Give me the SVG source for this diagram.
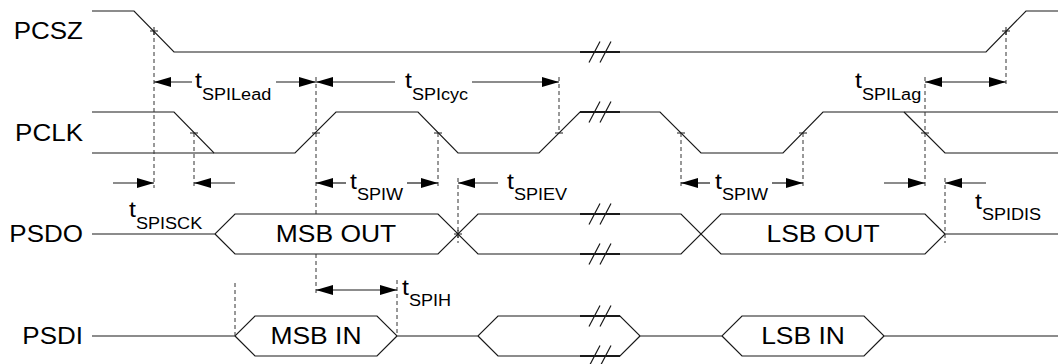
<svg xmlns="http://www.w3.org/2000/svg" width="1058" height="364" viewBox="0 0 1058 364">
<style>
.w{fill:none;stroke:#1a1a1a;stroke-width:1.2}
.brk{fill:none;stroke:#1a1a1a;stroke-width:2.2}
.sl{fill:none;stroke:#1a1a1a;stroke-width:1.2}
.d{fill:none;stroke:#333;stroke-width:1;stroke-dasharray:4 3}
.x{fill:none;stroke:#1a1a1a;stroke-width:1}
.a{fill:none;stroke:#1a1a1a;stroke-width:1.2;marker-end:url(#ah)}
.a2{fill:none;stroke:#1a1a1a;stroke-width:1.2;marker-end:url(#ah);marker-start:url(#ah)}
text{font-family:"Liberation Sans",Arial,Helvetica,sans-serif;fill:#000}
.lbl{font-size:23px}
.t{font-size:22px}
.s{font-size:16px}
</style>
<defs>
<marker id="ah" viewBox="0 0 17 10" refX="17" refY="5" markerWidth="17" markerHeight="10" markerUnits="userSpaceOnUse" orient="auto-start-reverse">
<path d="M0,0 L17,5 L0,10 z" fill="#000"/>
</marker>
</defs>
<rect width="1058" height="364" fill="#fff"/>

<g id="PCSZ">
<text class="lbl" text-anchor="end" transform="translate(83,39) scale(1.13,1)">PCSZ</text>
<path class="w" d="M92,11 H134 L174,52 H986 L1026,11 H1058"/>
<path class="brk" d="M580,52 H620"/>
<path class="sl" d="M589,62.5 L600,41.5 M600,62.5 L611,41.5"/>
</g>

<g id="PCLK">
<text class="lbl" text-anchor="end" transform="translate(83,141) scale(1.13,1)">PCLK</text>
<path class="w" d="M92,112 H174 L214,153 H295 L336,112 H418 L458,153 H539 L580,112 H660 L701,153 H783 L823,112 H1058"/>
<path class="w" d="M92,153 H214"/>
<path class="w" d="M904,112 L945,153 H1058"/>
<path class="brk" d="M580,112 H620"/>
<path class="sl" d="M589,122.5 L600,101.5 M600,122.5 L611,101.5"/>
</g>

<g id="PSDO">
<text class="lbl" text-anchor="end" transform="translate(83,242) scale(1.13,1)">PSDO</text>
<path class="w" d="M92,234 H215 L235,214 H438 L458,234 L478,214 H681 L721,254 H925 L945,234 H1058"/>
<path class="w" d="M215,234 L235,254 H438 L458,234 L478,254 H681 L721,214 H925 L945,234"/>
<path class="brk" d="M580,214 H620 M580,254 H620"/>
<path class="sl" d="M589,224.5 L600,203.5 M600,224.5 L611,203.5 M589,264.5 L600,243.5 M600,264.5 L611,243.5"/>
<text class="lbl" text-anchor="middle" transform="translate(336,242) scale(1.15,1)">MSB OUT</text>
<text class="lbl" text-anchor="middle" transform="translate(823,242) scale(1.15,1)">LSB OUT</text>
</g>

<g id="PSDI">
<text class="lbl" text-anchor="end" transform="translate(83,344) scale(1.13,1)">PSDI</text>
<path class="w" d="M92,336 H235 L255,316 H377 L397,336 H478 L498,316 H620 L640,336 H722 L742,316 H864 L884,336 H1058"/>
<path class="w" d="M235,336 L255,356 H377 L397,336 M478,336 L498,356 H620 L640,336 M722,336 L742,356 H864 L884,336"/>
<path class="brk" d="M580,316 H620 M580,356 H620"/>
<path class="sl" d="M589,326.5 L600,305.5 M600,326.5 L611,305.5 M589,366.5 L600,345.5 M600,366.5 L611,345.5"/>
<text class="lbl" text-anchor="middle" transform="translate(316,344) scale(1.15,1)">MSB IN</text>
<text class="lbl" text-anchor="middle" transform="translate(803,344) scale(1.15,1)">LSB IN</text>
</g>

<g id="connectors">
<path class="d" d="M154,31 V188 M194,133 V188 M316,77 V214 M316,254 V295 M438,133 V188 M559,77 V133 M458,178 V243 M681,133 V188 M803,133 V188 M925,77 V187 M1006,31 V87 M945,178 V243 M235,283 V336 M397,280 V336"/>
<path class="x" d="M150,31 H158 M154,27 V35 M1002,31 H1010 M1006,27 V35 M190,133 H198 M312,133 H320 M434,133 H442 M555,133 H563 M677,133 H685 M799,133 H807 M921,133 H929 M454,234 H462 M458,230 V238"/>
<!-- tSPILead -->
<line class="a" x1="192" y1="82" x2="154" y2="82"/>
<line class="a" x1="276" y1="82" x2="316" y2="82"/>
<!-- tSPIcyc -->
<line class="a" x1="395" y1="82" x2="316" y2="82"/>
<line class="a" x1="472" y1="82" x2="559" y2="82"/>
<!-- tSPILag -->
<line class="a2" x1="925" y1="82" x2="1006" y2="82"/>
<!-- tSPISCK -->
<line class="a" x1="113" y1="183" x2="154" y2="183"/>
<line class="a" x1="235" y1="183" x2="194" y2="183"/>
<!-- tSPIW 1 -->
<line class="a" x1="346" y1="183" x2="316" y2="183"/>
<line class="a" x1="407" y1="183" x2="438" y2="183"/>
<!-- tSPIEV -->
<line class="a" x1="498" y1="183" x2="458" y2="183"/>
<!-- tSPIW 2 -->
<line class="a" x1="710" y1="183" x2="681" y2="183"/>
<line class="a" x1="772" y1="183" x2="803" y2="183"/>
<!-- tSPIDIS -->
<line class="a" x1="884" y1="183" x2="925" y2="183"/>
<line class="a" x1="986" y1="183" x2="945" y2="183"/>
<!-- tSPIH -->
<line class="a2" x1="316" y1="290" x2="397" y2="290"/>
</g>

<g id="timing-labels">
<text class="t" transform="translate(195,88) scale(1.13,1)">t<tspan class="s" dy="12">SPILead</tspan></text>
<text class="t" transform="translate(405,88) scale(1.13,1)">t<tspan class="s" dy="12">SPIcyc</tspan></text>
<text class="t" transform="translate(855,88) scale(1.13,1)">t<tspan class="s" dy="12">SPILag</tspan></text>
<text class="t" transform="translate(129,217) scale(1.13,1)">t<tspan class="s" dy="12">SPISCK</tspan></text>
<text class="t" transform="translate(350,189) scale(1.13,1)">t<tspan class="s" dy="11">SPIW</tspan></text>
<text class="t" transform="translate(507,189) scale(1.13,1)">t<tspan class="s" dy="11">SPIEV</tspan></text>
<text class="t" transform="translate(715,189) scale(1.13,1)">t<tspan class="s" dy="11">SPIW</tspan></text>
<text class="t" transform="translate(975,209) scale(1.13,1)">t<tspan class="s" dy="11">SPIDIS</tspan></text>
<text class="t" transform="translate(402,295) scale(1.13,1)">t<tspan class="s" dy="11">SPIH</tspan></text>
</g>
</svg>
